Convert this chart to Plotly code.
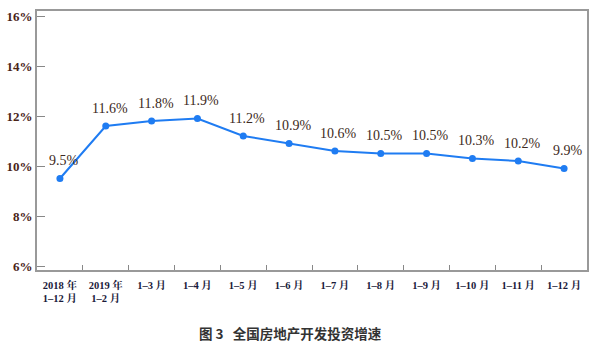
import plotly.graph_objects as go

categories = ["2018 年<br>1–12 月", "2019 年<br>1–2 月", "1–3 月", "1–4 月", "1–5 月", "1–6 月",
              "1–7 月", "1–8 月", "1–9 月", "1–10 月", "1–11 月", "1–12 月"]
growth = [9.5, 11.6, 11.8, 11.9, 11.2, 10.9, 10.6, 10.5, 10.5, 10.3, 10.2, 9.9]
labels = ["9.5%", "11.6%", "11.8%", "11.9%", "11.2%", "10.9%", "10.6%", "10.5%", "10.5%", "10.3%", "10.2%", "9.9%"]
ytick_vals = [6, 8, 10, 12, 14, 16]
ytick_text = ["6%", "8%", "10%", "12%", "14%", "16%"]
caption = "图 3\u00a0\u00a0\u00a0全国房地产开发投资增速"

serif = "Liberation Serif, Times New Roman, Noto Serif CJK SC, serif"

fig = go.Figure()
fig.add_trace(go.Scatter(
    x=categories, y=growth, mode="lines+markers",
    line=dict(color="#1f7cf2", width=2),
    marker=dict(color="#1f7cf2", size=7),
    hoverinfo="skip",
))

for c, v, t in zip(categories, growth, labels):
    fig.add_annotation(x=c, y=v, text=t, showarrow=False, yshift=18, xshift=4,
                       font=dict(family=serif, size=14, color="#3d2a22"))

fig.add_annotation(xref="paper", yref="paper", x=(290 - 37) / 550, y=-0.245, text="<b>" + caption + "</b>",
                   showarrow=False, xanchor="center", yanchor="middle",
                   font=dict(family="Noto Sans CJK SC, sans-serif", size=13.5, color="#333"))

fig.update_layout(
    width=600, height=349,
    margin=dict(l=37, r=13, t=11, b=79),
    paper_bgcolor="white", plot_bgcolor="white",
    showlegend=False,
    xaxis=dict(
        type="category", tickson="boundaries", ticks="inside", ticklen=5, tickcolor="#888",
        showline=True, linecolor="#999", linewidth=2, mirror=True, showgrid=False,
        tickfont=dict(family=serif, size=10.5, color="#1a1a3a", weight="bold"),
        tickangle=0, automargin=False, ticklabelstandoff=4,
        range=[-0.5, len(categories) - 0.5],
    ),
    yaxis=dict(
        range=[5.84, 16.2], tickvals=ytick_vals, ticktext=ytick_text,
        ticks="inside", ticklen=8, tickcolor="#888",
        showline=True, linecolor="#999", linewidth=2, mirror=True, showgrid=False,
        zeroline=False, automargin=False,
        tickfont=dict(family=serif, size=13, color="#4a2418", weight="bold"),
    ),
)

fig.write_html("out.html")
